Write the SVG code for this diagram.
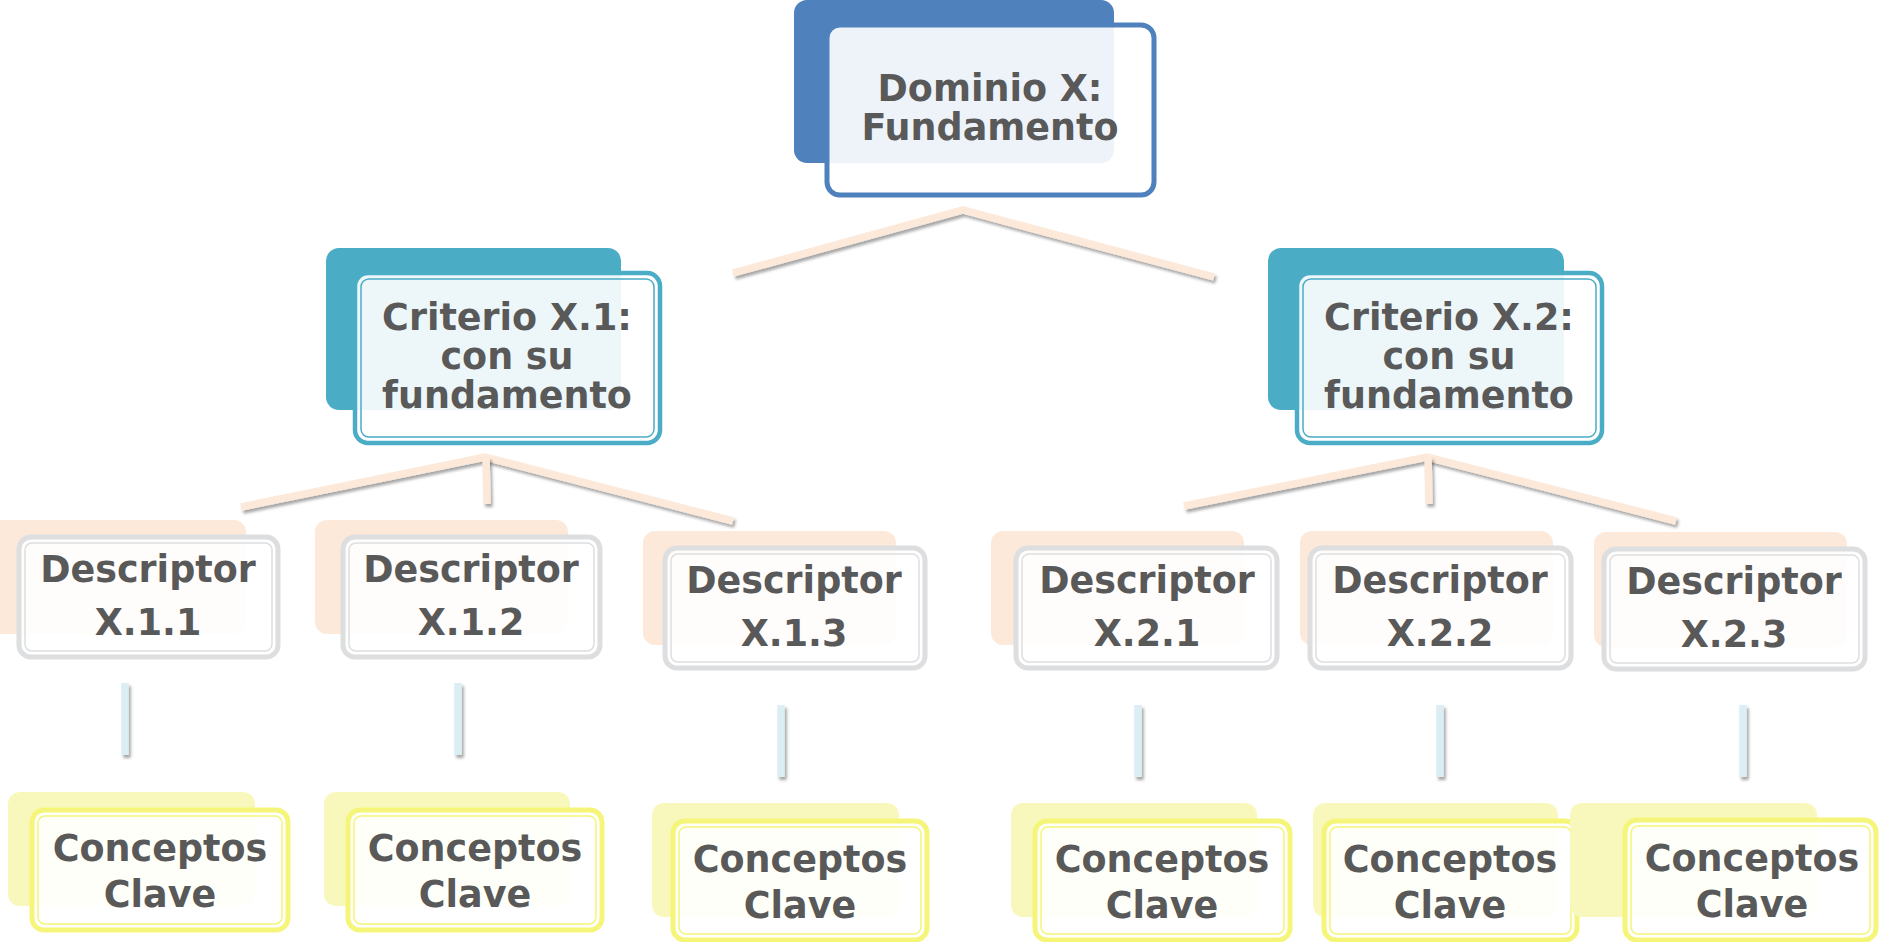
<svg xmlns="http://www.w3.org/2000/svg" width="1879" height="942" viewBox="0 0 1879 942">
<defs>
<filter id="sh" filterUnits="userSpaceOnUse" x="0" y="0" width="1879" height="942">
<feDropShadow dx="2" dy="3" stdDeviation="1.8" flood-color="#000" flood-opacity="0.35"/>
</filter>
</defs>
<style>
text{font-family:"DejaVu Sans","Verdana",sans-serif;font-weight:bold;font-size:36.5px;fill:#595959;text-anchor:middle}
.front{fill:#fff;fill-opacity:0.9}
.dom-back{fill:#4F81BD}
.dom-front{stroke:#4F81BD;stroke-width:5}
.cri-back{fill:#4BACC6}
.cri-front{stroke:#4BACC6;stroke-width:4.5}
.cri-in{fill:none;stroke:#4BACC6;stroke-width:1.5}
.des-back{fill:#FDE9D9}
.des-front{stroke:#DDDEE0;stroke-width:5}
.des-in{fill:none;stroke:#DDDEE0;stroke-width:1.5}
.con-back{fill:#F9F8BC}
.con-front{stroke:#F5F57A;stroke-width:5}
.con-in{fill:none;stroke:#F5F57A;stroke-width:1.5}
.pe{fill:none;stroke:#FDE9D9;stroke-width:7.5;filter:url(#sh)}
.bl{fill:none;stroke:#DAEEF3;stroke-width:7.5;filter:url(#sh)}
</style>
<g id="connectors">
<polyline class="pe" points="733,273 963,210 1214,277"/>
<polyline class="pe" points="241,507 485,457 733,521"/>
<line class="pe" x1="486" y1="457" x2="487" y2="504"/>
<polyline class="pe" points="1184,506 1427,457 1676,521"/>
<line class="pe" x1="1428" y1="457" x2="1429" y2="504"/>
<line class="bl" x1="125" y1="683" x2="125" y2="755"/>
<line class="bl" x1="458" y1="683" x2="458" y2="755"/>
<line class="bl" x1="781" y1="705" x2="781" y2="777"/>
<line class="bl" x1="1138" y1="705" x2="1138" y2="777"/>
<line class="bl" x1="1440" y1="705" x2="1440" y2="777"/>
<line class="bl" x1="1743" y1="705" x2="1743" y2="777"/>
</g>
<g id="dominio">
<rect class="dom-back" x="794" y="0" width="320" height="163" rx="13"/>
<rect class="front dom-front" x="827" y="25" width="327" height="170" rx="13"/>
<text x="990" y="101">Dominio X:</text>
<text x="990" y="140">Fundamento</text>
</g>
<g id="criterio1">
<rect class="cri-back" x="326" y="248" width="295" height="162" rx="13"/>
<rect class="front cri-front" x="355" y="273" width="305" height="170" rx="13"/>
<rect class="cri-in" x="361" y="279" width="293" height="158" rx="8"/>
<text x="507" y="330">Criterio X.1:</text>
<text x="507" y="369">con su</text>
<text x="507" y="408">fundamento</text>
</g>
<g id="criterio2">
<rect class="cri-back" x="1268" y="248" width="296" height="162" rx="13"/>
<rect class="front cri-front" x="1297" y="273" width="305" height="170" rx="13"/>
<rect class="cri-in" x="1303" y="279" width="293" height="158" rx="8"/>
<text x="1449" y="330">Criterio X.2:</text>
<text x="1449" y="369">con su</text>
<text x="1449" y="408">fundamento</text>
</g>
<g id="desc111">
<rect class="des-back" x="-10" y="520" width="256" height="114" rx="12"/>
<rect class="front des-front" x="19" y="537" width="259" height="120" rx="12"/>
<rect class="des-in" x="25" y="543" width="247" height="108" rx="7"/>
<text x="148" y="582">Descriptor</text>
<text x="148" y="635">X.1.1</text>
</g>
<g id="desc112">
<rect class="des-back" x="315" y="520" width="253" height="114" rx="12"/>
<rect class="front des-front" x="343" y="537" width="257" height="120" rx="12"/>
<rect class="des-in" x="349" y="543" width="245" height="108" rx="7"/>
<text x="471" y="582">Descriptor</text>
<text x="471" y="635">X.1.2</text>
</g>
<g id="desc113">
<rect class="des-back" x="643" y="531" width="253" height="114" rx="12"/>
<rect class="front des-front" x="665" y="548" width="260" height="120" rx="12"/>
<rect class="des-in" x="671" y="554" width="248" height="108" rx="7"/>
<text x="794" y="593">Descriptor</text>
<text x="794" y="646">X.1.3</text>
</g>
<g id="desc221">
<rect class="des-back" x="991" y="531" width="253" height="114" rx="12"/>
<rect class="front des-front" x="1016" y="548" width="261" height="120" rx="12"/>
<rect class="des-in" x="1022" y="554" width="249" height="108" rx="7"/>
<text x="1147" y="593">Descriptor</text>
<text x="1147" y="646">X.2.1</text>
</g>
<g id="desc222">
<rect class="des-back" x="1300" y="531" width="253" height="114" rx="12"/>
<rect class="front des-front" x="1310" y="548" width="261" height="120" rx="12"/>
<rect class="des-in" x="1316" y="554" width="249" height="108" rx="7"/>
<text x="1440" y="593">Descriptor</text>
<text x="1440" y="646">X.2.2</text>
</g>
<g id="desc223">
<rect class="des-back" x="1594" y="532" width="253" height="115" rx="12"/>
<rect class="front des-front" x="1604" y="549" width="261" height="120" rx="12"/>
<rect class="des-in" x="1610" y="555" width="249" height="108" rx="7"/>
<text x="1734" y="594">Descriptor</text>
<text x="1734" y="647">X.2.3</text>
</g>
<g id="con1">
<rect class="con-back" x="8" y="792" width="247" height="114" rx="12"/>
<rect class="front con-front" x="32" y="810" width="256" height="120" rx="12"/>
<rect class="con-in" x="38" y="816" width="244" height="108" rx="7"/>
<text x="160" y="861">Conceptos</text>
<text x="160" y="907">Clave</text>
</g>
<g id="con2">
<rect class="con-back" x="324" y="792" width="246" height="114" rx="12"/>
<rect class="front con-front" x="348" y="810" width="254" height="120" rx="12"/>
<rect class="con-in" x="354" y="816" width="242" height="108" rx="7"/>
<text x="475" y="861">Conceptos</text>
<text x="475" y="907">Clave</text>
</g>
<g id="con3">
<rect class="con-back" x="652" y="803" width="247" height="114" rx="12"/>
<rect class="front con-front" x="673" y="821" width="254" height="119" rx="12"/>
<rect class="con-in" x="679" y="827" width="242" height="107" rx="7"/>
<text x="800" y="872">Conceptos</text>
<text x="800" y="918">Clave</text>
</g>
<g id="con4">
<rect class="con-back" x="1011" y="803" width="246" height="114" rx="12"/>
<rect class="front con-front" x="1035" y="821" width="255" height="119" rx="12"/>
<rect class="con-in" x="1041" y="827" width="243" height="107" rx="7"/>
<text x="1162" y="872">Conceptos</text>
<text x="1162" y="918">Clave</text>
</g>
<g id="con5">
<rect class="con-back" x="1313" y="803" width="245" height="114" rx="12"/>
<rect class="front con-front" x="1324" y="821" width="253" height="119" rx="12"/>
<rect class="con-in" x="1330" y="827" width="241" height="107" rx="7"/>
<text x="1450" y="872">Conceptos</text>
<text x="1450" y="918">Clave</text>
</g>
<g id="con6">
<rect class="con-back" x="1570" y="803" width="247" height="114" rx="12"/>
<rect class="front con-front" x="1625" y="820" width="251" height="120" rx="12"/>
<rect class="con-in" x="1631" y="826" width="239" height="108" rx="7"/>
<text x="1752" y="871">Conceptos</text>
<text x="1752" y="917">Clave</text>
</g>
</svg>
